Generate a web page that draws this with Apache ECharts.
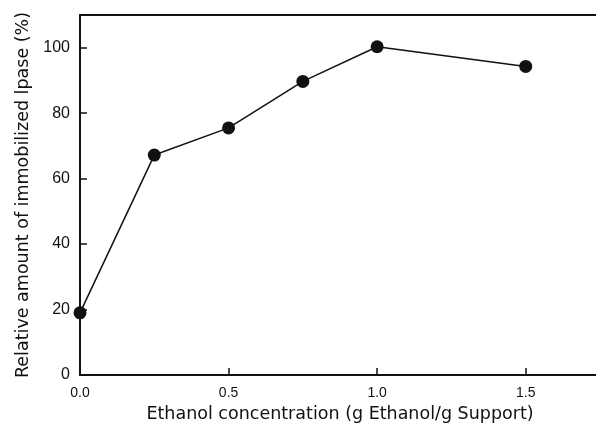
<!DOCTYPE html>
<html>
<head>
<meta charset="utf-8">
<script src="https://cdn.jsdelivr.net/npm/echarts@6/dist/echarts.min.js"></script>
<style>html,body{margin:0;padding:0;background:#fff;overflow:hidden;}#c{width:600px;height:430px;}</style>
</head>
<body>
<div id="c"></div>
<script>
const xValues = [0.0, 0.25, 0.5, 0.75, 1.0, 1.5];
const yValues = [19, 67.2, 75.5, 89.7, 100.3, 94.3];
const xTitle = 'Ethanol concentration (g Ethanol/g Support)';
const yTitle = 'Relative amount of immobilized lpase (%)';

const chart = echarts.init(document.getElementById('c'), null, {renderer: 'canvas'});
const font = '"Liberation Sans", Arial, sans-serif';
const tfont = '"DejaVu Sans", sans-serif';
chart.setOption({
  animation: false,
  backgroundColor: '#fff',
  grid: {left: 80, right: 0, top: 15, bottom: 55},
  xAxis: [{
    type: 'value', min: 0, max: 1.75, interval: 0.5,
    name: xTitle, nameLocation: 'middle', nameGap: 30,
    nameTextStyle: {fontFamily: tfont, fontSize: 17.5, color: '#111'},
    axisLine: {show: true, lineStyle: {color: '#111', width: 2}},
    axisTick: {show: true, inside: true, length: 7, lineStyle: {color: '#111', width: 1.5}},
    axisLabel: {fontFamily: font, fontSize: 14, color: '#111', margin: 11, showMaxLabel: false,
      formatter: v => v.toFixed(1)},
    splitLine: {show: false}
  }, {
    type: 'value', position: 'top', min: 0, max: 1.75,
    axisLine: {show: true, lineStyle: {color: '#111', width: 2}},
    axisTick: {show: false}, axisLabel: {show: false}, splitLine: {show: false}
  }],
  yAxis: {
    type: 'value', min: 0, max: 110, interval: 20,
    name: yTitle, nameLocation: 'middle', nameGap: 46,
    nameTextStyle: {fontFamily: tfont, fontSize: 17.5, color: '#111'},
    axisLine: {show: true, lineStyle: {color: '#111', width: 2}},
    axisTick: {show: true, inside: true, length: 7, lineStyle: {color: '#111', width: 1.5}},
    axisLabel: {fontFamily: font, fontSize: 16, color: '#111', margin: 10, showMaxLabel: false},
    splitLine: {show: false}
  },
  series: [{
    type: 'line',
    data: xValues.map((x, i) => [x, yValues[i]]),
    symbol: 'circle', symbolSize: 13,
    lineStyle: {color: '#111', width: 1.5},
    itemStyle: {color: '#111'},
    clip: false
  }]
});
</script>
</body>
</html>
